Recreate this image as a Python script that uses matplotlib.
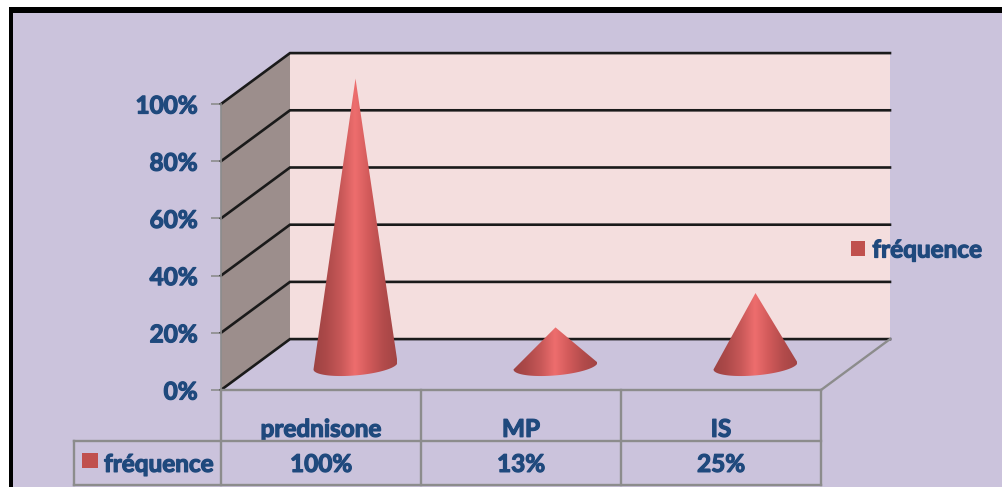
import numpy as np
import matplotlib
matplotlib.use("Agg")
import matplotlib.pyplot as plt
import matplotlib.patheffects as pe
from matplotlib.colors import LinearSegmentedColormap
from matplotlib.patches import Patch, Polygon, Rectangle

categories = ["prednisone", "MP", "IS"]
frequence = [100, 13, 25]
value_labels = ["100%", "13%", "25%"]
y_ticks = [0, 20, 40, 60, 80, 100]
series_name = "fréquence"

W, H = 1003, 487
BG = "#CBC3DC"
WALL = "#F4DEDE"
SIDE = "#9C8E8C"
TEXT = "#1F497D"
GREY = "#8C8C8C"
SERIES = "#C0504D"

# 3D depth of the box, in data units (x = categories, y = percent)
DX = 0.345
DY = 17.8
CONE_HALF = 0.21
CONE_B = 3.3
CONE_TILT = 0.083 * 200 / 2.86

cone_cmap = LinearSegmentedColormap.from_list(
    "cone", ["#9C4242", "#AE4A4A", "#C85858", "#EE6E6E", "#D25A5A", "#B44C4C", "#A24444"])

fig = plt.figure(figsize=(W / 100, H / 100), dpi=100, facecolor="white")
fig.add_artist(Rectangle((9 / W, 0), (W - 9) / W, 1 - 7 / H, transform=fig.transFigure,
                         facecolor=BG, edgecolor="none", zorder=-3))
fig.add_artist(Rectangle((9 / W, 0), 4 / W, 1 - 7 / H, transform=fig.transFigure,
                         facecolor="black", edgecolor="none", zorder=-2))
fig.add_artist(Rectangle((9 / W, 1 - 12.5 / H), (W - 9) / W, 5.5 / H, transform=fig.transFigure,
                         facecolor="black", edgecolor="none", zorder=-2))

# axes rectangle is the front face of the 3D box
ax = fig.add_axes([221 / W, (H - 390) / H, 600 / W, 286 / H], facecolor="none")
ax.set_xlim(-0.5, 2.5)
ax.set_ylim(0, 100)
for s in ax.spines.values():
    s.set_visible(False)

x0, x1 = -0.5, 2.5

# walls and floor
ax.add_patch(Polygon([(x0 + DX, DY), (x1 + DX, DY), (x1 + DX, 100 + DY), (x0 + DX, 100 + DY)],
                     facecolor=WALL, edgecolor="none", clip_on=False, zorder=1))
ax.add_patch(Polygon([(x0, 0), (x0 + DX, DY), (x0 + DX, 100 + DY), (x0, 100)],
                     facecolor=SIDE, edgecolor="none", clip_on=False, zorder=1))

for t in y_ticks:
    ax.plot([x0, x0 + DX, x1 + DX], [t, t + DY, t + DY], color="#1A1A1A", lw=1.9,
            clip_on=False, zorder=2, solid_joinstyle="miter")
ax.plot([x0, x0], [0, 100], color=GREY, lw=1.2, clip_on=False, zorder=2)
ax.plot([x1, x1 + DX], [0, DY], color=GREY, lw=1.7, clip_on=False, zorder=2)

# data table
row1, row2 = -17.8, -33.2
for xv in [x0, x0 + 1, x0 + 2, x1]:
    ax.plot([xv, xv], [0, row2], color=GREY, lw=1.7, clip_on=False, zorder=2)
ax.plot([x0, x1], [0, 0], color=GREY, lw=1.7, clip_on=False, zorder=2)
key_left = x0 - 147 / 200
ax.plot([key_left, x1], [row1, row1], color=GREY, lw=1.7, clip_on=False, zorder=2)
ax.plot([key_left, x1], [row2, row2], color=GREY, lw=1.7, clip_on=False, zorder=2)
ax.plot([key_left, key_left], [row1, row2], color=GREY, lw=1.7, clip_on=False, zorder=2)

# cones
t = np.linspace(np.pi, 2 * np.pi, 60)
for i, v in enumerate(frequence):
    cx, cy = i + DX / 2, DY / 2
    ex = cx + CONE_HALF * np.cos(t)
    ey = cy - 0.5 + CONE_TILT * CONE_HALF * np.cos(t) + CONE_B * np.sin(t)
    outline = Polygon(np.column_stack([np.r_[cx, ex], np.r_[cy + v, ey]]), closed=True,
                      transform=ax.transData, facecolor="none", edgecolor="none")
    ax.add_patch(outline)
    im = ax.imshow(np.linspace(0, 1, 128)[None, :], cmap=cone_cmap, aspect="auto",
                   extent=[cx - CONE_HALF, cx + CONE_HALF, cy - 6, cy + v + 1], zorder=3)
    im.set_clip_box(fig.bbox)
    im.set_clip_path(outline)
ax.set_xlim(x0, x1)
ax.set_ylim(0, 100)

bold = [pe.withStroke(linewidth=0.9, foreground=TEXT)]
font = dict(family="Lato", fontweight="bold", color=TEXT, fontsize=17.5)

ax.set_yticks(y_ticks)
ax.set_yticklabels([f"{v}%" for v in y_ticks], path_effects=bold, **font)
ax.tick_params(axis="y", length=7, width=1.2, color=GREY, pad=10)
ax.set_xticks(range(len(categories)))
ax.set_xticklabels(categories, path_effects=bold, **font)
ax.tick_params(axis="x", length=0, pad=20)

row_mid = (row1 + row2) / 2 - 0.5
for i, lab in enumerate(value_labels):
    ax.text(i, row_mid, lab, ha="center", va="center", path_effects=bold, clip_on=False, **font)

# key cell of the table
ax.add_patch(Rectangle((x0 - 139 / 200, row1 - 12 * 100 / 286), 16 / 200, -15 * 100 / 286,
                       facecolor=SERIES, edgecolor="none", clip_on=False, zorder=3))
ax.text(x0 - 117 / 200, row_mid, series_name, ha="left", va="center",
        path_effects=bold, clip_on=False, **font)

# legend on the right
leg = ax.legend(handles=[Patch(facecolor=SERIES, label=series_name)], frameon=False,
                loc="center left", bbox_to_anchor=(851 / W, 1 - 250 / H), bbox_transform=fig.transFigure,
                handlelength=0.58, handleheight=0.58, handletextpad=0.3, borderpad=0, borderaxespad=0,
                prop={"family": "Lato", "weight": "bold", "size": 17.5})
for txt in leg.get_texts():
    txt.set_color(TEXT)
    txt.set_path_effects(bold)

fig.savefig("out.png", dpi=100)
